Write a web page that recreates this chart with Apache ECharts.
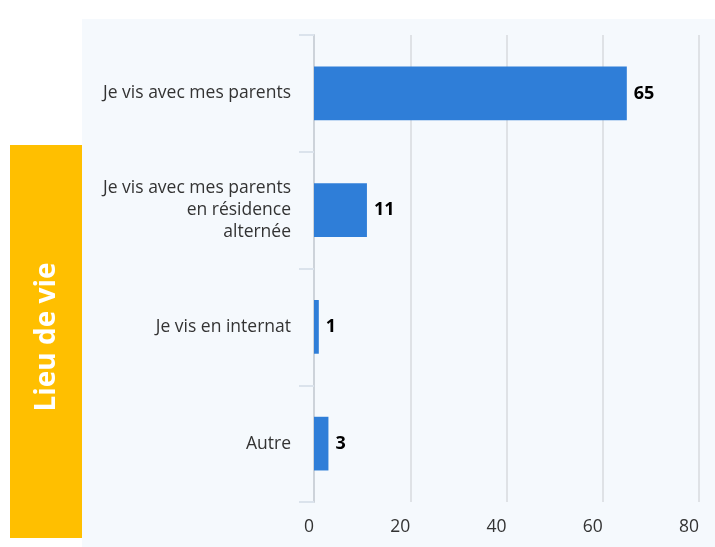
<!DOCTYPE html>
<html>
<head>
<meta charset="utf-8">
<script src="https://cdn.jsdelivr.net/npm/echarts@6/dist/echarts.min.js"></script>
<style>
html,body{margin:0;padding:0;background:#ffffff;}
#chart{width:715px;height:547px;}
</style>
</head>
<body>
<div id="chart"></div>
<script>
const categories = [
  "Je vis avec mes parents",
  "Je vis avec mes parents\nen résidence\nalternée",
  "Je vis en internat",
  "Autre"
];
const values = [65, 11, 1, 3];
const xTicks = [0, 20, 40, 60, 80];
const sideTitle = "Lieu de vie";

const chart = echarts.init(document.getElementById('chart'), null, {renderer: 'canvas'});
const FONT = '"Open Sans", sans-serif';
chart.setOption({
  animation: false,
  backgroundColor: '#ffffff',
  graphic: [
    {type: 'rect', z: -10, shape: {x: 82, y: 19, width: 633, height: 528}, style: {fill: '#f5f9fd'}},
    {type: 'rect', z: -5, shape: {x: 10, y: 145, width: 72, height: 393}, style: {fill: '#ffbf00'}},
    {type: 'text', x: 47, y: 337, rotation: Math.PI / 2,
      style: {text: sideTitle, fill: '#ffffff', font: 'bold 28px ' + FONT, align: 'center', verticalAlign: 'middle'}}
  ],
  grid: {left: 314, top: 35, right: 16, bottom: 45, containLabel: false},
  xAxis: {
    type: 'value', min: xTicks[0], max: xTicks[xTicks.length - 1], interval: 20,
    axisLine: {show: false}, axisTick: {show: false},
    splitLine: {show: true, lineStyle: {color: '#dfe2e6', width: 2}},
    axisLabel: {color: '#333333', fontSize: 17.5, fontFamily: FONT, align: 'right', margin: 16}
  },
  yAxis: {
    type: 'category', data: categories, inverse: true,
    axisLine: {show: true, lineStyle: {color: '#cdd3da', width: 2}},
    axisTick: {show: true, length: 15, lineStyle: {color: '#dbe3ec', width: 2}},
    axisLabel: {color: '#333333', fontSize: 17.5, fontFamily: FONT, lineHeight: 22, margin: 23, align: 'right'}
  },
  series: [{
    type: 'bar', data: values, barWidth: '46%',
    itemStyle: {color: '#2f7ed8'},
    label: {show: true, position: 'right', distance: 7, color: '#000000', fontWeight: 'bold', fontSize: 18, fontFamily: FONT}
  }]
});
</script>
</body>
</html>
